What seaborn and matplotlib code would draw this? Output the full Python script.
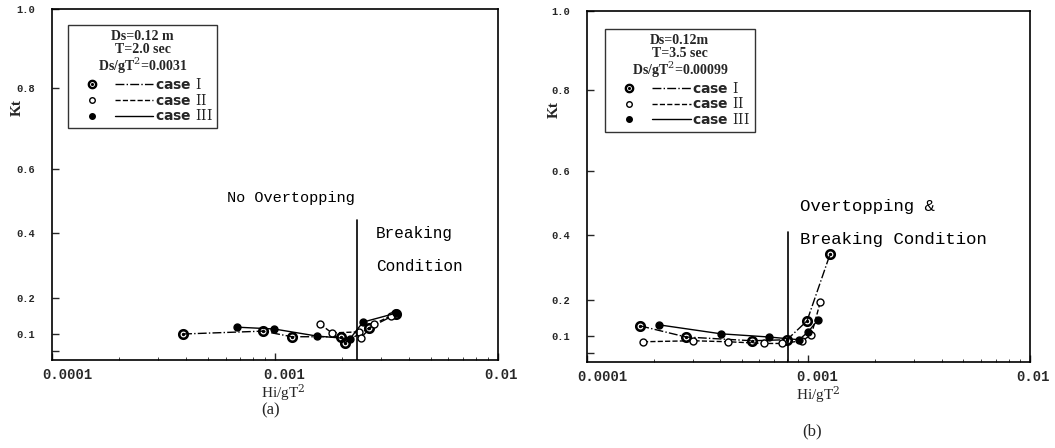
import numpy as np
import pandas as pd
import matplotlib
matplotlib.use("Agg")
import matplotlib.pyplot as plt
import matplotlib.transforms as mtransforms
import seaborn as sns
from matplotlib.lines import Line2D
from matplotlib.legend_handler import HandlerTuple

# ---- data ----
# (a) Ds=0.12 m, T=2.0 sec
a_case1_x = [0.000387, 0.000883, 0.00119, 0.00198, 0.00206, 0.00264, 0.00349]
a_case1_kt = [0.100, 0.108, 0.092, 0.092, 0.075, 0.117, 0.155]
a_case2_x = [0.00159, 0.00180, 0.00238, 0.00243, 0.00278, 0.00330]
a_case2_kt = [0.128, 0.103, 0.106, 0.089, 0.128, 0.150]
a_case3_x = [0.000675, 0.00099, 0.00154, 0.00217, 0.00248, 0.00349]
a_case3_kt = [0.119, 0.114, 0.094, 0.086, 0.133, 0.158]
a_breaking_x = 0.00233

# (b) Ds=0.12 m, T=3.5 sec
b_case1_x = [0.000174, 0.00028, 0.000556, 0.00080, 0.000985, 0.00125]
b_case1_kt = [0.128, 0.097, 0.086, 0.089, 0.142, 0.340]
b_case2_x = [0.000179, 0.000301, 0.000433, 0.00063, 0.000759, 0.000935, 0.00103, 0.00113]
b_case2_kt = [0.083, 0.086, 0.083, 0.078, 0.078, 0.086, 0.103, 0.194]
b_case3_x = [0.000211, 0.000403, 0.000663, 0.000906, 0.000995, 0.00110]
b_case3_kt = [0.131, 0.106, 0.097, 0.089, 0.111, 0.144]
b_breaking_x = 0.00081

cases = ["case I", "case II", "case III"]
case_labels = [r"case $\mathrm{I}$", r"case $\mathrm{II}$", r"case $\mathrm{III}$"]
x_ticks = [0.0001, 0.001, 0.01]
x_tick_labels = ["0.0001", "0.001", "0.01"]
y_ticks = [0.1, 0.2, 0.4, 0.6, 0.8, 1.0]
y_tick_labels = ["0.1", "0.2", "0.4", "0.6", "0.8", "1.0"]

sns.set_style("ticks")
plt.rcParams["font.family"] = ["Liberation Serif", "DejaVu Serif"]
plt.rcParams["mathtext.fontset"] = "dejavuserif"

# the Kt axis of the paper is stretched unevenly -> piecewise scale
kt_anchor = [0.028, 0.05, 0.1, 0.2, 0.4, 0.6, 0.8, 1.0]
kt_pos = [0, 9, 26, 62, 127, 191, 272, 351]

def fwd(v):
    return np.interp(v, kt_anchor, kt_pos)

def inv(p):
    return np.interp(p, kt_pos, kt_anchor)

styles = {
    "case I": dict(marker=r"$\odot$", ms=7, mfc="black", linestyle="-."),
    "case II": dict(marker="o", ms=5, mfc="white", linestyle="--"),
    "case III": dict(marker="o", ms=5, mfc="black", linestyle="-"),
}


def make_df(xs, ks):
    frames = [pd.DataFrame({"x": x, "Kt": k, "case": c}) for x, k, c in zip(xs, ks, cases)]
    return pd.concat(frames, ignore_index=True)


df_a = make_df([a_case1_x, a_case2_x, a_case3_x], [a_case1_kt, a_case2_kt, a_case3_kt])
df_b = make_df([b_case1_x, b_case2_x, b_case3_x], [b_case1_kt, b_case2_kt, b_case3_kt])

fig = plt.figure(figsize=(10.55, 4.48), dpi=100)
ax_a = fig.add_axes([0.0493, 0.1964, 0.4227, 0.7835])
ax_b = fig.add_axes([0.5564, 0.192, 0.4199, 0.7835])

mono = dict(family=["Liberation Mono", "DejaVu Sans Mono"], weight="bold")
# the typed tick labels sit a little to the right of their ticks
xlabel_shift = [0.15, 0.09, 0.03]


def draw_panel(ax, df, title, breaking_x, line_top, leg_xy, ylab_x, xlab_x):
    for c in cases:
        sub = df[df["case"] == c]
        st = styles[c]
        sns.lineplot(data=sub, x="x", y="Kt", ax=ax, color="black", lw=1.0,
                     estimator=None, sort=False, marker=st["marker"], ms=st["ms"],
                     mfc=st["mfc"], mec="black", mew=1.0, linestyle=st["linestyle"])
    ax.set_xscale("log")
    ax.set_yscale("function", functions=(fwd, inv))
    ax.set_xlim(0.0001, 0.01)
    ax.set_ylim(0.028, 1.0)
    ax.set_xticks(x_ticks, x_tick_labels)
    ax.set_yticks(y_ticks, y_tick_labels)
    ax.set_yticks([0.05], minor=True)
    ax.yaxis.set_minor_formatter(plt.NullFormatter())
    ax.tick_params(axis="x", which="major", direction="in", length=5, width=1, pad=6)
    ax.tick_params(axis="y", which="major", direction="in", length=5, width=1, pad=12)
    ax.tick_params(axis="x", which="minor", direction="in", length=2, width=0.6)
    ax.tick_params(axis="y", which="minor", direction="in", length=5, width=1)
    for lab, dx in zip(ax.get_xticklabels(), xlabel_shift):
        lab.set_fontproperties(dict(mono, size=10))
        lab.set_transform(lab.get_transform() +
                          mtransforms.ScaledTranslation(dx, 0, fig.dpi_scale_trans))
    for lab in ax.get_yticklabels():
        lab.set_fontproperties(dict(mono, size=7.5))
    for sp in ax.spines.values():
        sp.set_visible(True)
        sp.set_linewidth(1.2)
        sp.set_color("black")

    ax.set_ylabel("Kt", fontsize=11, rotation=90, fontweight="bold")
    ax.yaxis.set_label_coords(ylab_x, 0.72)
    ax.set_xlabel(r"Hi/gT$^2$", fontsize=11)
    ax.xaxis.set_label_coords(xlab_x, -0.062)

    ax.axvline(breaking_x, ymin=0, ymax=line_top, color="black", lw=1.2)

    handles = []
    for c in cases:
        st = styles[c]
        mk = Line2D([], [], ls="none", marker=st["marker"], ms=st["ms"] - 1,
                    mfc=st["mfc"], mec="black", mew=1.0)
        ln = Line2D([], [], color="black", lw=1.0, linestyle=st["linestyle"])
        handles.append((mk, ln))
    leg = ax.legend(handles, case_labels, title=title,
                    handler_map={tuple: HandlerTuple(ndivide=None, pad=0.2)},
                    loc="upper left", bbox_to_anchor=leg_xy, borderaxespad=0,
                    frameon=True, fancybox=False, edgecolor="black",
                    handlelength=5.8, handletextpad=0.1, labelspacing=0.05,
                    borderpad=0.35, title_fontsize=10,
                    prop=dict(family=["DejaVu Sans"], weight="bold", size=10))
    leg.get_frame().set_linewidth(1.0)
    leg.get_title().set_multialignment("center")
    leg.get_title().set_fontweight("bold")
    leg.get_title().set_linespacing(1.0)


draw_panel(ax_a, df_a, "Ds=0.12 m\nT=2.0 sec\nDs/gT$^2$=0.0031",
           a_breaking_x, 0.40, (0.036, 0.954), -0.063, 0.518)
draw_panel(ax_b, df_b, "Ds=0.12m\nT=3.5 sec\nDs/gT$^2$=0.00099",
           b_breaking_x, 0.37, (0.041, 0.949), -0.06, 0.521)

txt = dict(family=["Liberation Mono", "DejaVu Sans Mono"], color="black")
ax_a.text(0.00118, 0.51, "No Overtopping", ha="center", va="center", fontsize=11, **txt)
ax_a.text(0.00284, 0.40, "Breaking", ha="left", va="center", fontsize=11.5, **txt)
ax_a.text(0.00284, 0.298, "Condition", ha="left", va="center", fontsize=11.5, **txt)
ax_b.text(0.000914, 0.49, "Overtopping &", ha="left", va="center", fontsize=12.5, **txt)
ax_b.text(0.000914, 0.385, "Breaking Condition", ha="left", va="center", fontsize=12.5, **txt)

fig.text(0.256, 0.085, "(a)", ha="center", va="center", fontsize=12)
fig.text(0.770, 0.036, "(b)", ha="center", va="center", fontsize=12)

fig.savefig("out.png", dpi=100)
